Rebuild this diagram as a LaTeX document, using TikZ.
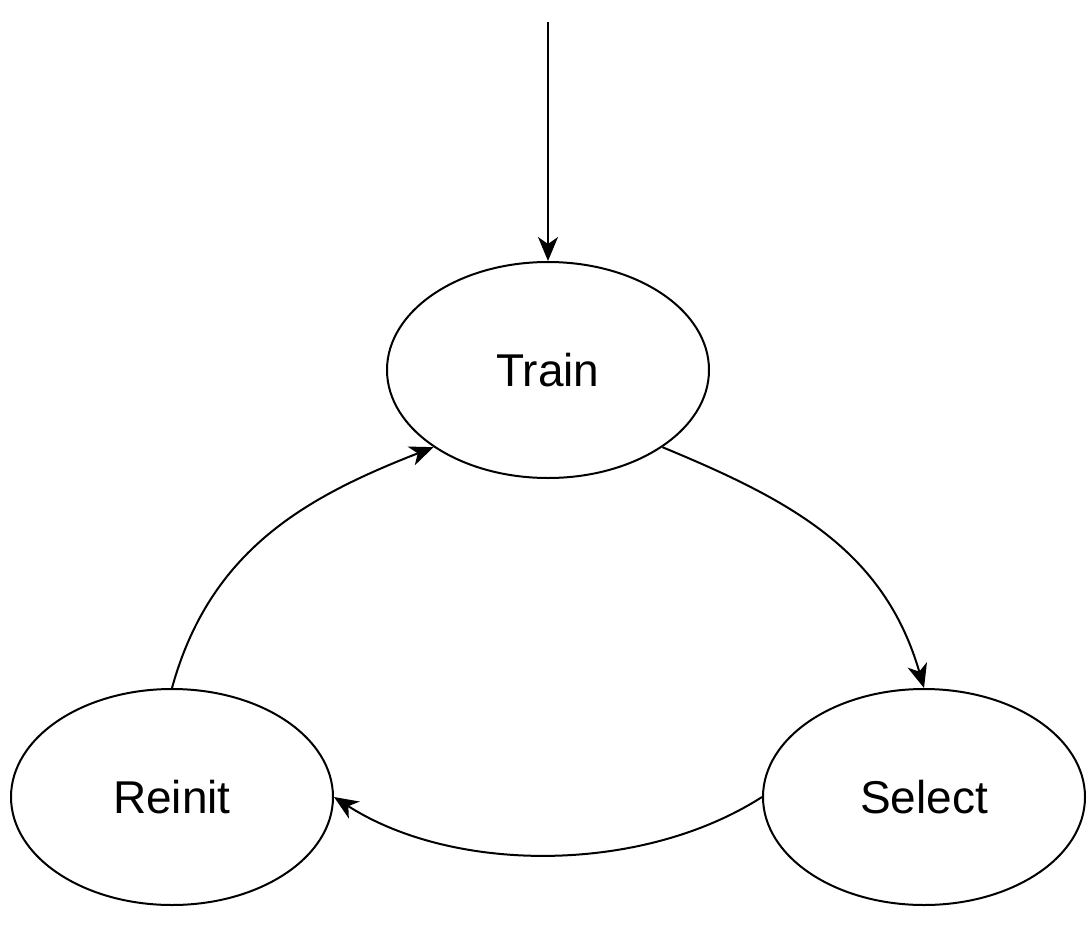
\documentclass[tikz,border=0pt]{standalone}
\usepackage{fontspec}
\setmainfont{Liberation Sans}
\usetikzlibrary{shapes.geometric,arrows.meta}
\begin{document}
\begin{tikzpicture}[x=1pt,y=-1pt,
  state/.style={draw,line width=2pt,ellipse,minimum width=322pt,minimum height=216pt,inner sep=0pt,font=\fontsize{46}{54}\selectfont},
  conn/.style={line width=2pt,-{Stealth[length=24pt,width=20pt,inset=7pt]}}]
\useasboundingbox (0,0) rectangle (1090,926);
\node[state] (T) at (548,370) {Train};
\node[state] (R) at (172,797) {Reinit};
\node[state] (S) at (924,797) {Select};
\coordinate (start) at (548,22);
\draw[conn] (start) -- (T.north);
\draw[conn] (T.-34) .. controls +(128,53) and +(-40,-138) .. (S.north);
\draw[conn] (S.west) .. controls +(-120,77) and +(120,77) .. (R.east);
\draw[conn] (R.north) .. controls +(38,-138) and +(-128,50) .. (T.-146);
\end{tikzpicture}
\end{document}
